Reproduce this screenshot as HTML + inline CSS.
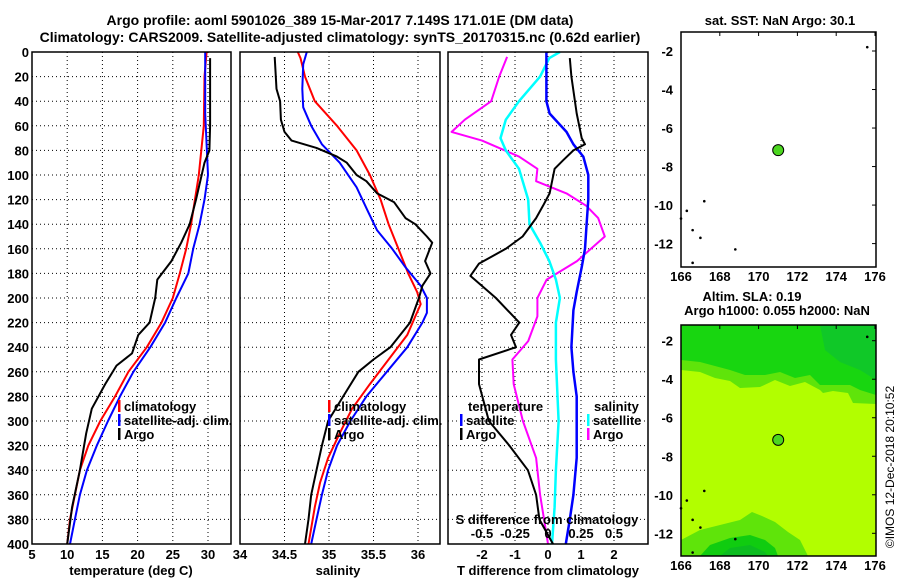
<!DOCTYPE html>
<html><head><meta charset="utf-8"><style>
body{margin:0;background:#fff;}
svg{display:block;font-family:"Liberation Sans",sans-serif;font-weight:bold;}
</style></head><body>
<svg id="c" width="900" height="580" viewBox="0 0 900 580">
<text x="340" y="25" font-size="14" text-anchor="middle">Argo profile: aoml 5901026_389 15-Mar-2017 7.149S 171.01E (DM data)</text>
<text x="340" y="42" font-size="14" text-anchor="middle">Climatology: CARS2009. Satellite-adjusted climatology: synTS_20170315.nc (0.62d earlier)</text>
<g id="g"></g>
</svg>
<script>
// depth arrays (m) and values
const tArgoD=[5,60,80,90,120,140,155,170,185,200,220,230,245,255,270,290,310,340,370,400];
const tArgoV=[30.3,30.3,30.2,29.5,28.3,27.4,26.2,24.8,22.8,22.5,21.7,20.1,19.2,17.0,15.4,13.5,12.7,11.8,10.7,10.0];
const tClimD=[0,20,60,100,140,160,180,200,220,240,260,280,300,320,340,360,380,400];
const tClimV=[29.8,29.5,29.4,28.7,27.6,26.9,26.0,25.0,23.4,21.3,18.7,16.8,14.7,13.0,11.8,11.1,10.4,10.0];
const tSatD=[0,50,100,120,140,160,180,200,220,240,260,280,300,320,340,360,380,400];
const tSatV=[29.6,29.6,30.0,29.5,28.8,27.9,27.2,25.5,23.9,21.8,19.4,17.5,15.8,14.2,12.8,11.8,11.1,10.4];
const sArgoD=[4,30,40,55,65,72,78,85,90,100,105,115,122,135,140,150,155,170,180,190,200,220,240,250,260,280,300,320,340,360,380,400];
const sArgoV=[34.39,34.41,34.45,34.46,34.50,34.58,34.86,35.09,35.20,35.31,35.42,35.54,35.73,35.86,35.97,36.10,36.16,36.08,36.14,36.05,36.01,35.91,35.69,35.50,35.33,35.16,34.99,34.92,34.86,34.80,34.77,34.73];
const sClimD=[0,5,20,40,60,80,100,120,140,160,180,195,205,215,230,250,270,290,310,330,350,370,400];
const sClimV=[34.65,34.68,34.73,34.84,35.09,35.31,35.46,35.58,35.67,35.78,35.89,35.99,36.03,35.97,35.88,35.67,35.46,35.26,35.12,34.99,34.90,34.84,34.77];
const sSatD=[0,10,30,45,60,75,90,110,130,145,160,175,190,200,212,220,240,260,280,300,320,340,360,380,400];
const sSatV=[34.75,34.71,34.70,34.71,34.80,34.92,35.12,35.31,35.44,35.54,35.71,35.86,36.03,36.10,36.10,36.05,35.88,35.65,35.42,35.24,35.09,34.99,34.92,34.86,34.80];
const dTArgoD=[5,20,50,70,75,80,88,95,115,125,135,150,160,172,182,200,220,230,240,250,270,300,320,340,360,380,400];
const dTArgoV=[0.66,0.71,0.87,1.02,1.12,0.77,0.46,0.20,0.05,-0.15,-0.36,-0.77,-1.28,-2.09,-2.35,-1.58,-0.87,-1.12,-0.97,-2.09,-2.09,-1.79,-1.17,-0.61,-0.36,-0.26,0.15];
const dTSatD=[0,40,50,65,75,85,100,120,140,160,175,195,210,240,260,280,300,330,360,380,400];
const dTSatV=[-0.05,-0.05,0.05,0.56,0.77,1.07,1.22,1.22,1.17,1.12,1.02,0.87,0.77,0.71,0.77,0.87,0.87,0.87,0.77,0.66,0.54];
const dSSatD=[0,5,20,40,55,70,80,95,120,140,155,170,185,200,220,250,300,340,370,400];
const dSSatV=[0.09,0.01,-0.06,-0.22,-0.32,-0.36,-0.32,-0.22,-0.15,-0.14,-0.06,0.01,0.06,0.09,0.06,0.06,0.08,0.06,0.05,0.03];
const dSArgoD=[4,20,40,55,65,72,85,95,105,115,125,135,150,170,185,200,215,235,250,270,300,330,360,400];
const dSArgoV=[-0.31,-0.37,-0.43,-0.63,-0.73,-0.50,-0.22,-0.08,-0.09,0.14,0.29,0.38,0.43,0.22,-0.01,-0.08,-0.08,-0.15,-0.27,-0.26,-0.19,-0.09,-0.06,0.0];
const depthTicks=[0,20,40,60,80,100,120,140,160,180,200,220,240,260,280,300,320,340,360,380,400];
const tTicks=[5,10,15,20,25,30];
const sTicks=[34,34.5,35,35.5,36];
const dTTicks=[-2,-1,0,1,2];
const dSTicks=[-0.5,-0.25,0,0.25,0.5];
const lonTicks=[166,168,170,172,174,176];
const latTicks=[-2,-4,-6,-8,-10,-12];
const argoLon=171.01, argoLat=-7.149;

const NS='http://www.w3.org/2000/svg';
const G=document.getElementById('g');
function el(tag,a,parent){const e=document.createElementNS(NS,tag);for(const k in a)e.setAttribute(k,a[k]);(parent||G).appendChild(e);return e;}
const Y0=52,Y1=544;
const yD=d=>Y0+(Y1-Y0)*d/400;
const xT=v=>32+(v-5)*7.04;
const xS=v=>240+(v-34)*89;
const xDT=v=>548+v*33;
const xDS=v=>548+v*132;
const panels=[[32,231],[240,440],[448,648]];

panels.forEach((p,i)=>{
  depthTicks.forEach(d=>{
    const l=el('line',{x1:p[0],x2:p[1],y1:yD(d),y2:yD(d),stroke:'#000','stroke-width':1,'stroke-dasharray':'1,3'});
    
    
  });
});
tTicks.slice(1).forEach(v=>{const l=el('line',{x1:xT(v),x2:xT(v),y1:Y0,y2:Y1,stroke:'#000','stroke-dasharray':'1,3'});});
sTicks.slice(1).forEach(v=>{const l=el('line',{x1:xS(v),x2:xS(v),y1:Y0,y2:Y1,stroke:'#000','stroke-dasharray':'1,3'});});
dTTicks.forEach(v=>{const l=el('line',{x1:xDT(v),x2:xDT(v),y1:Y0,y2:Y1,stroke:'#000','stroke-dasharray':'1,3'});});

function series(D,V,xf,col,w,name){
  const pts=D.map((d,i)=>xf(V[i]).toFixed(1)+','+yD(d).toFixed(1)).join(' ');
  const p=el('polyline',{points:pts,fill:'none',stroke:col,'stroke-width':w,'stroke-linejoin':'round'});
  
  
}
series(tClimD,tClimV,xT,'#f00',2,'temp-climatology-line');
series(tSatD,tSatV,xT,'#00f',2,'temp-satellite-line');
series(tArgoD,tArgoV,xT,'#000',2,'temp-argo-line');
series(sClimD,sClimV,xS,'#f00',2,'sal-climatology-line');
series(sSatD,sSatV,xS,'#00f',2,'sal-satellite-line');
series(sArgoD,sArgoV,xS,'#000',2,'sal-argo-line');
series(dSArgoD,dSArgoV,xDS,'#f0f',2,'sdiff-argo-line');
series(dSSatD,dSSatV,xDS,'#0ff',2.5,'sdiff-satellite-line');
series(dTSatD,dTSatV,xDT,'#00f',2.5,'tdiff-satellite-line');
series(dTArgoD,dTArgoV,xDT,'#000',2,'tdiff-argo-line');

panels.forEach(p=>{const r=el('rect',{x:p[0],y:Y0,width:p[1]-p[0],height:Y1-Y0,fill:'none',stroke:'#000','stroke-width':1.5});});
function txt(x,y,s,size,anchor,name,fill){const t=el('text',{x:x,y:y,'font-size':size,'text-anchor':anchor||'start',fill:fill||'#000'});t.textContent=s;return t;}
depthTicks.forEach(d=>txt(29,yD(d)+5,String(d),13,'end','depth-tick-label'));
tTicks.forEach(v=>txt(xT(v),559,String(v),13,'middle','temp-tick-label'));
sTicks.forEach(v=>txt(xS(v),559,String(v),13,'middle','sal-tick-label'));
dTTicks.forEach(v=>txt(xDT(v),559,String(v),13,'middle','tdiff-tick-label'));
dSTicks.forEach(v=>txt(xDS(v),538,String(v),13,'middle','sdiff-tick-label'));
txt(131,575,'temperature (deg C)',13,'middle','temp-axis-title');
txt(338,575,'salinity',13,'middle','sal-axis-title');
txt(548,575,'T difference from climatology',13,'middle','tdiff-axis-title');
txt(547,524,'S difference from climatology',13,'middle','sdiff-axis-title');

function leg(x,y,col,label,name){const r=el('rect',{x:x,y:y-11,width:2.5,height:12,fill:col});txt(x+6,y,label,13,'start',name);}
leg(118,411,'#f00','climatology','legend-climatology');
leg(118,425,'#00f','satellite-adj. clim.','legend-satellite');
leg(118,439,'#000','Argo','legend-argo');
leg(328,411,'#f00','climatology','legend2-climatology');
leg(328,425,'#00f','satellite-adj. clim.','legend2-satellite');
leg(328,439,'#000','Argo','legend2-argo');
txt(468,411,'temperature',13,'start','legend-temperature-heading');
leg(460,425,'#00f','satellite','legend-t-satellite');
leg(460,439,'#000','Argo','legend-t-argo');
txt(594,411,'salinity',13,'start','legend-salinity-heading');
leg(587,425,'#0ff','satellite','legend-s-satellite');
leg(587,439,'#f0f','Argo','legend-s-argo');

const mx=v=>681+(v-166)*19.4;
const ly1=v=>51+(-2-v)*19.26;
const ly2=v=>340.7+(-2-v)*19.26;
const f=el('g',{});
el('rect',{x:681,y:325,width:195,height:231,fill:'#b2fe00'},f);
el('polygon',{points:'681,325 876,325 876,404 853,403 848,393 833,391 823,393 820,390 805,382 790,386 775,380 760,387 740,388 730,381 715,378 700,372 681,370',fill:'#5fe40a'},f);
el('polygon',{points:'681,325 876,325 876,395 860,390 850,385 835,385 820,385 810,375 795,378 780,372 765,375 745,375 730,370 715,366 700,362 681,360',fill:'#18d610'},f);
el('polygon',{points:'820,325 876,325 876,380 860,370 840,362 825,350',fill:'#10c828'},f);
el('polygon',{points:'681,556 681,540 700,530 740,520 752,512 762,516 775,522 788,532 800,540 808,556',fill:'#5fe40a'},f);
el('polygon',{points:'700,556 710,545 730,538 750,535 765,540 775,548 778,556',fill:'#10cc10'},f);
el('polygon',{points:'720,556 730,548 750,545 765,552 768,556',fill:'#0cbc20'},f);

[[32,51,267,ly1,'sst-map'],[325,340.7,556,ly2,'sla-map']].forEach(m=>{
  const [top,,bot,ly,name]=m;
  const r=el('rect',{x:681,y:top,width:195,height:bot-top,fill:'none',stroke:'#000','stroke-width':1.5});
  
  latTicks.forEach(v=>{txt(673,ly(v)+5,String(v),13,'end',name+'-lat-label');el('line',{x1:872,x2:876,y1:ly(v),y2:ly(v),stroke:'#000'});});
  lonTicks.forEach(v=>{txt(mx(v),bot+14,String(v),13,'middle',name+'-lon-label');el('line',{x1:mx(v),x2:mx(v),y1:top,y2:top+4,stroke:'#000'});});
  [[166,-10.7],[166.6,-11.3],[167,-11.7],[166.3,-10.3],[167.2,-9.8],[168.8,-12.3],[175.6,-1.8],[166.6,-13]].forEach(q=>el('circle',{cx:mx(q[0]),cy:ly(q[1]),r:1.3,fill:'#000'}));
  const c=el('circle',{cx:mx(argoLon),cy:ly(argoLat),r:5.5,fill:'#4cd620',stroke:'#000','stroke-width':1});
  
  
});
txt(780,25,'sat. SST: NaN Argo: 30.1',13,'middle','sst-map-title');
txt(752,301,'Altim. SLA: 0.19',13,'middle','sla-map-title');
txt(777,315,'Argo h1000: 0.055 h2000: NaN',13,'middle','sla-map-subtitle');
const cr=txt(0,0,'©IMOS 12-Dec-2018 20:10:52',12,'middle','imos-credit');
cr.setAttribute('font-weight','normal');
cr.setAttribute('transform','translate(894,467) rotate(-90)');
</script>
</body></html>
